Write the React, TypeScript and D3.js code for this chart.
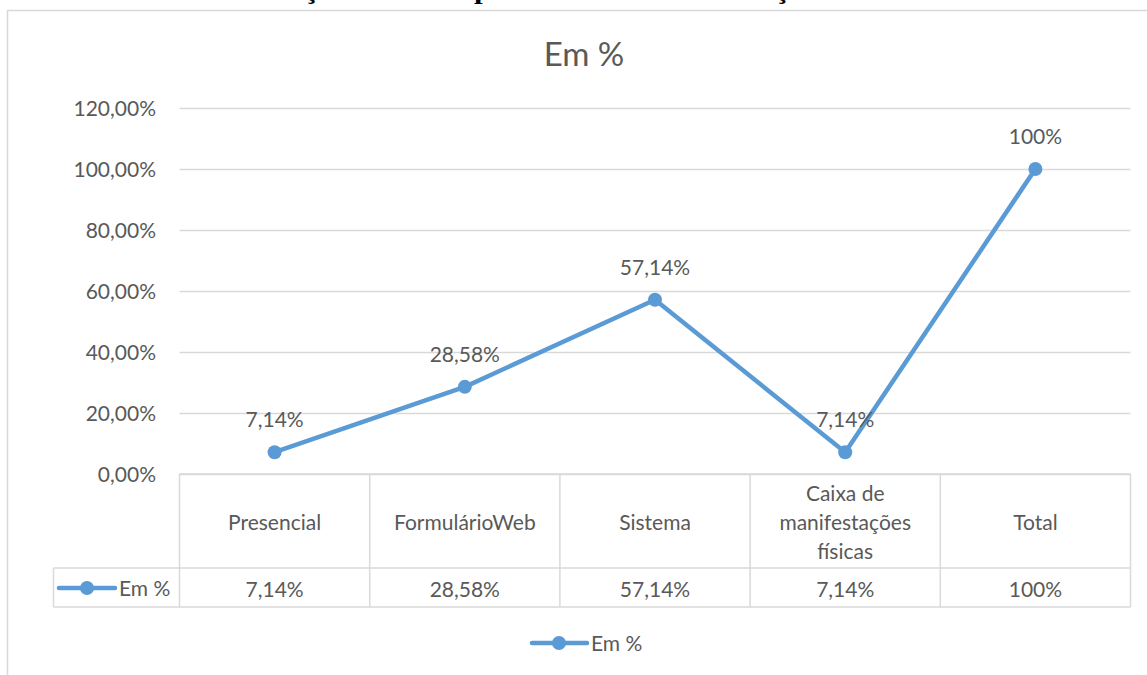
import React from "react";
import * as d3 from "d3";

const categories = ["Presencial", "FormulárioWeb", "Sistema", "Caixa de manifestações físicas", "Total"];
const categoryLines = [["Presencial"], ["FormulárioWeb"], ["Sistema"], ["Caixa de", "manifestações", "físicas"], ["Total"]];
const values = [7.14, 28.58, 57.14, 7.14, 100];
const valueLabels = ["7,14%", "28,58%", "57,14%", "7,14%", "100%"];
const yTicks = [0, 20, 40, 60, 80, 100, 120];
const seriesName = "Em %";
const chartTitle = "Em %";
const captionText = "Gráfico 4 – Manifestações abertas por canal de comunicação";

const W = 1147;
const H = 675;
const BLUE = "#5B9BD5";
const TXT = "#595959";
const GRID = "#D9D9D9";
const FONT = "Lato, 'Open Sans', sans-serif";

export default function App() {
  const x = d3.scaleBand<string>().domain(categories).range([179.5, 1130.5]).paddingInner(0).paddingOuter(0);
  const y = d3.scaleLinear().domain([0, 120]).range([474, 108]);
  const bw = x.bandwidth();
  const cx = (c: string) => (x(c) as number) + bw / 2;
  const fmt = (v: number) => v.toFixed(2).replace(".", ",") + "%";

  const line = d3
    .line<number>()
    .x((_, i) => cx(categories[i]))
    .y((d) => y(d));

  const tableTop = y(0);
  const rowMid = 568;
  const tableBottom = 607;
  const legendCellLeft = 53.5;
  const tableRight = 1130.5;

  return (
    <div style={{ position: "absolute", left: 0, top: 0, width: W, height: H }}>
      <svg width={W} height={H} style={{ display: "block", background: "#fff" }}>
        {/* caption (cut off at the top, as in the reference) */}
        <text
          x={13}
          y={-0.8}
          fontFamily="'Liberation Serif', 'Times New Roman', serif"
          fontWeight="bold"
          fontSize={25}
          fill="#000"
          textLength={807}
          lengthAdjust="spacingAndGlyphs"
        >
          {captionText}
        </text>

        {/* chart border */}
        <path d={`M7.5,${H} V10.5 H${W}`} fill="none" stroke={GRID} strokeWidth={1.5} />

        {/* title */}
        <text x={584} y={66} textAnchor="middle" fontFamily={FONT} fontSize={33} fill={TXT}>
          {chartTitle}
        </text>

        {/* gridlines */}
        {yTicks.map((t) => (
          <line key={t} x1={179.5} x2={tableRight} y1={Math.round(y(t)) + 0.5} y2={Math.round(y(t)) + 0.5} stroke={GRID} strokeWidth={1.3} />
        ))}

        {/* y tick labels */}
        {yTicks.map((t) => (
          <text key={"l" + t} x={156} y={y(t) + 7.5} textAnchor="end" fontFamily={FONT} fontSize={21} fill={TXT}>
            {fmt(t)}
          </text>
        ))}

        {/* data table */}
        <g stroke={GRID} strokeWidth={1.5} fill="none">
          <line x1={179.5} x2={tableRight} y1={tableTop} y2={tableTop} />
          <line x1={legendCellLeft} x2={tableRight} y1={rowMid} y2={rowMid} />
          <line x1={legendCellLeft} x2={tableRight} y1={tableBottom} y2={tableBottom} />
          <line x1={legendCellLeft} x2={legendCellLeft} y1={rowMid} y2={tableBottom} />
          {categories.map((c) => (
            <line key={c} x1={x(c) as number} x2={x(c) as number} y1={tableTop} y2={tableBottom} />
          ))}
          <line x1={tableRight} x2={tableRight} y1={tableTop} y2={tableBottom} />
        </g>

        {/* category labels */}
        {categories.map((c, i) => {
          const lines = categoryLines[i];
          const lh = 29;
          const base = 529.5 - ((lines.length - 1) / 2) * lh;
          return (
            <text key={"c" + c} textAnchor="middle" fontFamily={FONT} fontSize={21} fill={TXT}>
              {lines.map((ln, j) => (
                <tspan key={j} x={cx(c)} y={base + j * lh}>
                  {ln}
                </tspan>
              ))}
            </text>
          );
        })}

        {/* table values */}
        {categories.map((c, i) => (
          <text key={"v" + c} x={cx(c)} y={596.5} textAnchor="middle" fontFamily={FONT} fontSize={21} fill={TXT}>
            {valueLabels[i]}
          </text>
        ))}

        {/* legend key in table */}
        <line x1={59} x2={115} y1={588} y2={588} stroke={BLUE} strokeWidth={4.5} strokeLinecap="round" />
        <circle cx={87} cy={588} r={7} fill={BLUE} />
        <text x={119} y={595.5} fontFamily={FONT} fontSize={21} fill={TXT}>
          {seriesName}
        </text>

        {/* series line */}
        <path d={line(values) || ""} fill="none" stroke={BLUE} strokeWidth={4.5} strokeLinejoin="round" strokeLinecap="round" />
        {values.map((v, i) => (
          <circle key={"p" + i} cx={cx(categories[i])} cy={y(v)} r={7} fill={BLUE} />
        ))}

        {/* data labels */}
        {values.map((v, i) => (
          <text key={"d" + i} x={cx(categories[i])} y={y(v) - 25} textAnchor="middle" fontFamily={FONT} fontSize={21} fill={TXT}>
            {valueLabels[i]}
          </text>
        ))}

        {/* bottom legend */}
        <line x1={532} x2={587} y1={643} y2={643} stroke={BLUE} strokeWidth={4.5} strokeLinecap="round" />
        <circle cx={559} cy={643} r={7} fill={BLUE} />
        <text x={591} y={650.5} fontFamily={FONT} fontSize={21} fill={TXT}>
          {seriesName}
        </text>
      </svg>
    </div>
  );
}
